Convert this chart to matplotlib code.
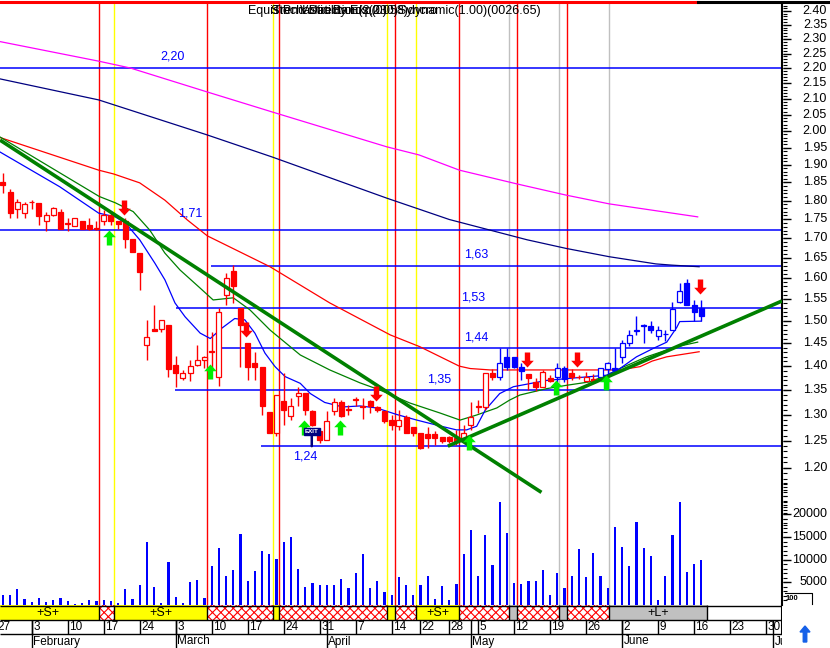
import matplotlib
matplotlib.use('Agg')
import matplotlib.pyplot as plt
from matplotlib.patches import Rectangle, FancyArrow
from matplotlib.path import Path
from matplotlib.lines import Line2D
from matplotlib.collections import LineCollection
from matplotlib.transforms import blended_transform_factory
import numpy as np
import pandas as pd

plt.rcParams['font.family'] = ['Liberation Sans', 'DejaVu Sans']
plt.rcParams['hatch.linewidth'] = 0.8

# ---------------- data ----------------
holidays = ['2003-04-18', '2003-04-21', '2003-05-01']

opens = [1.852, 1.824, 1.776, 1.766, 1.795, 1.792, 1.744, 1.761, 1.770, 1.738,
         1.733, 1.744, 1.735, 1.727, 1.744, 1.761, 1.745, 1.744, 1.699, 1.662,
         1.445, 1.481, 1.481, 1.490, 1.403, 1.376, 1.386, 1.403, 1.413, 1.431,
         1.378, 1.560, 1.618, 1.530, 1.450, 1.406, 1.399, 1.305, 1.265, 1.328,
         1.298, 1.338, 1.344, 1.308, 1.268, 1.251, 1.307, 1.325, 1.311, 1.329,
         1.317, 1.328, 1.316, 1.308, 1.290, 1.278, 1.296, 1.276, 1.265, 1.263,
         1.263, 1.257, 1.257, 1.256, 1.256, 1.280, 1.316, 1.316, 1.385, 1.377,
         1.419, 1.419, 1.399, 1.383, 1.367, 1.357, 1.376, 1.377, 1.396, 1.386,
         1.378, 1.368, 1.374, 1.377, 1.394, 1.397, 1.420, 1.450, 1.477, 1.490,
         1.488, 1.466, 1.469, 1.479, 1.544, 1.588, 1.537, 1.530]
highs = [1.877, 1.832, 1.803, 1.796, 1.801, 1.792, 1.770, 1.783, 1.777, 1.752,
         1.754, 1.745, 1.752, 1.745, 1.774, 1.770, 1.745, 1.752, 1.699, 1.662,
         1.502, 1.536, 1.502, 1.490, 1.421, 1.392, 1.413, 1.446, 1.421, 1.474,
         1.530, 1.613, 1.633, 1.530, 1.450, 1.431, 1.399, 1.305, 1.340, 1.386,
         1.335, 1.357, 1.344, 1.310, 1.268, 1.307, 1.335, 1.330, 1.320, 1.337,
         1.333, 1.330, 1.318, 1.308, 1.300, 1.310, 1.300, 1.276, 1.265, 1.276,
         1.269, 1.257, 1.260, 1.270, 1.280, 1.325, 1.330, 1.385, 1.395, 1.440,
         1.440, 1.419, 1.406, 1.383, 1.376, 1.392, 1.381, 1.406, 1.401, 1.394,
         1.381, 1.387, 1.384, 1.396, 1.408, 1.440, 1.457, 1.478, 1.511, 1.492,
         1.499, 1.488, 1.479, 1.544, 1.588, 1.598, 1.548, 1.548]
lows = [1.820, 1.752, 1.752, 1.752, 1.776, 1.734, 1.719, 1.757, 1.724, 1.719,
        1.731, 1.724, 1.721, 1.721, 1.734, 1.734, 1.724, 1.674, 1.664, 1.572,
        1.413, 1.476, 1.474, 1.378, 1.357, 1.370, 1.368, 1.401, 1.396, 1.392,
        1.359, 1.536, 1.540, 1.399, 1.371, 1.371, 1.300, 1.265, 1.260, 1.280,
        1.290, 1.318, 1.300, 1.278, 1.245, 1.251, 1.300, 1.296, 1.300, 1.317,
        1.293, 1.304, 1.305, 1.285, 1.271, 1.271, 1.265, 1.260, 1.234, 1.237,
        1.243, 1.245, 1.245, 1.243, 1.250, 1.271, 1.304, 1.309, 1.371, 1.370,
        1.392, 1.397, 1.370, 1.350, 1.349, 1.357, 1.367, 1.367, 1.367, 1.370,
        1.374, 1.366, 1.366, 1.370, 1.383, 1.386, 1.407, 1.443, 1.468, 1.451,
        1.472, 1.457, 1.455, 1.479, 1.542, 1.537, 1.500, 1.500]
closes = [1.843, 1.766, 1.795, 1.790, 1.797, 1.757, 1.761, 1.779, 1.724, 1.740,
          1.752, 1.724, 1.724, 1.724, 1.761, 1.744, 1.738, 1.699, 1.664, 1.616,
          1.464, 1.476, 1.502, 1.394, 1.386, 1.386, 1.401, 1.413, 1.419, 1.433,
          1.520, 1.600, 1.582, 1.490, 1.399, 1.399, 1.318, 1.265, 1.340, 1.310,
          1.318, 1.344, 1.310, 1.280, 1.251, 1.289, 1.325, 1.298, 1.309, 1.331,
          1.315, 1.317, 1.309, 1.289, 1.280, 1.290, 1.265, 1.265, 1.237, 1.256,
          1.256, 1.250, 1.250, 1.250, 1.265, 1.296, 1.318, 1.385, 1.377, 1.406,
          1.399, 1.399, 1.389, 1.375, 1.357, 1.388, 1.369, 1.396, 1.374, 1.377,
          1.377, 1.377, 1.369, 1.396, 1.406, 1.391, 1.450, 1.468, 1.479, 1.489,
          1.479, 1.478, 1.470, 1.526, 1.570, 1.537, 1.520, 1.511]
volumes = [2200, 2200, 3500, 1300, 600, 1600, 700, 1100, 1600, 900,
           200, 400, 1100, 900, 1100, 900, 500, 3500, 1300, 4400,
           13900, 4000, 400, 9500, 1800, 400, 5100, 5500, 1500, 8600,
           12500, 6400, 7700, 15700, 5300, 7400, 11900, 11200, 10100, 13900,
           15000, 7900, 4000, 4900, 4300, 4400, 4400, 5700, 3700, 7100,
           11200, 3700, 5300, 2800, 2200, 6200, 4400, 2200, 4300, 6500,
           1300, 4200, 1100, 4600, 11200, 16500, 6500, 15400, 8900, 22700,
           15900, 4800, 4600, 5400, 5200, 7700, 2200, 7000, 3700, 6300,
           12300, 6100, 11500, 6300, 3700, 17100, 12800, 8700, 18400, 12600,
           10900, 1100, 6400, 15400, 22700, 7300, 9000, 9900]
# r = short regime (red bars), b = long regime (blue bars)
bar_regime = 'r' * 69 + 'b' * 4 + 'r' * 4 + 'b' * 2 + 'r' * 4 + 'b' * 15

# moving averages (bar index, price)
ma_magenta_x = [-1, 13.3, 17.7, 28.3, 37.4, 53.3, 57.8, 63.4, 71.4, 78.2, 84.2, 96.5]
ma_magenta_y = [2.294, 2.224, 2.201, 2.123, 2.059, 1.953, 1.929, 1.885, 1.846, 1.815, 1.791, 1.756]
ma_navy_x = [-1, 13.3, 28.3, 37.4, 53.4, 57.9, 62.0, 72.8, 78.2, 84.2, 90.7, 92.9, 96.7]
ma_navy_y = [2.168, 2.097, 1.989, 1.923, 1.806, 1.776, 1.749, 1.696, 1.674, 1.653, 1.635, 1.632, 1.628]
ma_red_x = [-1, 13.3, 15.4, 19.0, 22.5, 25.6, 28.4, 37.1, 45.4, 53.8, 57.9, 63.4, 64.9,
            67.7, 74.6, 85.7, 88.5, 90.2, 92.2, 96.7]
ma_red_y = [1.985, 1.885, 1.874, 1.849, 1.801, 1.748, 1.706, 1.628, 1.541, 1.468, 1.442, 1.400, 1.395,
            1.392, 1.392, 1.392, 1.399, 1.411, 1.420, 1.431]
ma_green_x = [-1, 13.4, 15.6, 18.1, 20.4, 22.5, 24.6, 27.4, 29.2, 32.0, 34.3, 37.1, 41.3, 45.4,
              49.6, 52.4, 56.5, 60.7, 63.5, 65.8, 68.6, 70.4, 71.8, 75.5, 78.3, 81.5, 83.9,
              85.7, 89.4, 93.6, 96.5]
ma_green_y = [1.990, 1.811, 1.794, 1.770, 1.721, 1.662, 1.620, 1.576, 1.548, 1.553, 1.525, 1.479, 1.424, 1.392,
              1.365, 1.350, 1.324, 1.304, 1.290, 1.300, 1.314, 1.330, 1.340, 1.353, 1.360, 1.367, 1.381,
              1.395, 1.420, 1.442, 1.452]
ma_blue_x = [-1, 7.9, 13.3, 15.6, 17.0, 19.0, 21.1, 22.5, 23.9, 25.3, 27.4, 28.8, 30.4, 32.2, 33.6,
             35.0, 36.4, 37.8, 39.2, 41.3, 42.7, 44.7, 47.2, 49.6, 51.9, 54.7, 57.5, 60.3, 63.0,
             64.4, 65.8, 67.0, 69.0, 70.9, 75.5, 79.2, 83.9, 85.7, 88.0, 90.3, 92.2, 93.6, 94.0, 97.0]
ma_blue_y = [1.945, 1.838, 1.766, 1.756, 1.740, 1.696, 1.637, 1.596, 1.541, 1.509, 1.472, 1.460, 1.483, 1.505, 1.502,
             1.472, 1.428, 1.399, 1.378, 1.364, 1.343, 1.325, 1.316, 1.318, 1.314, 1.301, 1.290, 1.280, 1.271,
             1.271, 1.278, 1.310, 1.343, 1.357, 1.370, 1.375, 1.381, 1.395, 1.420, 1.438, 1.452, 1.485, 1.498, 1.499]

# support / resistance levels
level_prices = [2.20, 1.722, 1.63, 1.53, 1.44, 1.35, 1.24]
level_text = ['2,20', '1,71', '1,63', '1,53', '1,44', '1,35', '1,24']
level_start = [None, None, 28.9, 24.0, 29.9, 23.9, 35.8]
level_label_x = [23.5, 26.0, 65.7, 65.3, 65.7, 60.6, 42.0]
level_label_dy = [8.5, 11.5, 8.5, 7.5, 7.5, 7.5, -7.5]

# trend lines (bar index, price)
down_trend = ([-0.4, 74.8], [1.973, 1.156])
up_trend = ([61.8, 108.2], [1.240, 1.5455])

# signal arrows (bar index, price at tip)
buy_idx = [15, 29, 42, 47, 65, 77, 84]
buy_tip = [1.721, 1.4045, 1.290, 1.290, 1.261, 1.371, 1.381]
sell_idx = [17, 34, 52, 73, 80, 97]
sell_tip = [1.760, 1.463, 1.3286, 1.399, 1.399, 1.561]

# system state band: edges in bar units and state of each segment
band_edges = [-1, 13.4, 15.5, 28.4, 37.45, 38.4, 53.4, 54.4, 57.35, 63.4, 70.35,
              71.45, 77.3, 78.3, 84.2, 97.8]
band_state = ['S', 'X', 'S', 'X', 'S', 'X', 'S', 'X', 'S', 'X', 'G', 'X', 'G', 'X', 'G']
band_label = ['+S+', '', '+S+', '', '', '', '', '', '+S+', '', '', '', '', '', '+L+']

price_ticks = [1.20, 1.25, 1.30, 1.35, 1.40, 1.45, 1.50, 1.55, 1.60, 1.65, 1.70, 1.75,
               1.80, 1.85, 1.90, 1.95, 2.00, 2.05, 2.10, 2.15, 2.20, 2.25, 2.30, 2.35, 2.40]
volume_ticks = [5000, 10000, 15000, 20000]

# ---------------- layout ----------------
FW, FH = 830, 648


def fig_rect(x0, y0, x1, y1):
    # pixel box measured from the top-left corner
    return [x0 / FW, 1 - y1 / FH, (x1 - x0) / FW, (y1 - y0) / FH]


calendar = pd.bdate_range('2003-01-27', '2003-07-04').drop(pd.to_datetime(holidays))
cal_pos = np.arange(len(calendar)) - 1          # Jan 28 is bar 0
pos = np.arange(len(opens))
XL, XR = -0.403, 108.21

fig = plt.figure(figsize=(8.3, 6.48), dpi=100)
ax = fig.add_axes(fig_rect(0, 3, 782, 605))
axv = ax.twinx()   # volume shares the same pane

ax.set_yscale('log')
ax.set_xlim(XL, XR)
ax.set_ylim(0.9744, 2.4292)
for s in ['top', 'left', 'bottom']:
    ax.spines[s].set_visible(False)
ax.spines['right'].set_linewidth(1.5)
ax.set_xticks([])
ax.set_yticks([], minor=True)
ax.set_yticks([])

axv.set_ylim(0, 602 * 220.5)
for s in ['top', 'left', 'bottom', 'right']:
    axv.spines[s].set_visible(False)
axv.set_yticks([])


def right_ticks(axis, values, length_px, lw):
    # tick marks outside the pane, x in figure pixels, y in the axis' data units
    tr = blended_transform_factory(fig.transFigure, axis.transData)
    segs = [[(783 / FW, v), ((783 + length_px) / FW, v)] for v in values]
    fig.add_artist(LineCollection(segs, transform=tr, colors='black', linewidths=lw))


right_ticks(ax, np.round(np.arange(1.10, 2.43, 0.01), 2), 4, 0.8)
right_ticks(ax, price_ticks, 8, 1.0)
right_ticks(axv, np.arange(1000, 27001, 1000), 4, 0.8)
right_ticks(axv, volume_ticks, 8, 1.0)

yt = ax.get_yaxis_transform()
for p in price_ticks:
    ax.text(827 / 782, p, f'{p:.2f}', transform=yt, ha='right', va='center',
            fontsize=9, clip_on=False)
vt = axv.get_yaxis_transform()
for v in volume_ticks:
    axv.text(827 / 782, v, f'{v}', transform=vt, ha='right', va='center',
             fontsize=9, clip_on=False)

# signal lines
line_col = {'X': '#ff0000', 'S': '#ffff00', 'G': '#c0c0c0'}
for e, st in zip(band_edges[1:-1], band_state[1:]):
    ax.axvline(e, color=line_col[st], lw=1.0, zorder=0.5)

# support / resistance
for lv, st in zip(level_prices, level_start):
    ax.hlines(lv, XL if st is None else st, XR, color='#0000ff', lw=1.1, zorder=1)
for lv, t, lx, dy in zip(level_prices, level_text, level_label_x, level_label_dy):
    ax.annotate(t, (lx, lv), xytext=(0, dy), textcoords='offset points',
                ha='center', va='center', fontsize=9, color='#0000ff')

# moving averages
ax.plot(ma_magenta_x, ma_magenta_y, color='#ff00ff', lw=0.9, zorder=2)
ax.plot(ma_navy_x, ma_navy_y, color='#000080', lw=0.9, zorder=2)
ax.plot(ma_red_x, ma_red_y, color='#ff0000', lw=0.9, zorder=2)
ax.plot(ma_green_x, ma_green_y, color='#008000', lw=0.9, zorder=2)
ax.plot(ma_blue_x, ma_blue_y, color='#0000ff', lw=0.9, zorder=2)

# candles
for i, o, h, l, c, rg in zip(pos, opens, highs, lows, closes, bar_regime):
    col = '#ff0000' if rg == 'r' else '#0000ff'
    ax.vlines(i, l, h, color=col, lw=1.0, zorder=3)
    lo, hi = min(o, c), max(o, c)
    face = col if c < o else 'white'
    ax.add_patch(Rectangle((i - 0.35, lo), 0.7, hi - lo, facecolor=face,
                           edgecolor=col, lw=0.9, zorder=4))

# trend lines
ax.plot(*down_trend, color='#008000', lw=2.6, zorder=5, solid_capstyle='butt')
ax.plot(*up_trend, color='#008000', lw=2.6, zorder=5, solid_capstyle='butt')

# arrows
up_v = [(0, 0), (0.42, -0.45), (0.18, -0.45), (0.18, -1), (-0.18, -1), (-0.18, -0.45), (-0.42, -0.45), (0, 0)]
codes = [Path.MOVETO] + [Path.LINETO] * 6 + [Path.CLOSEPOLY]
up_arrow = Path(up_v, codes)
down_arrow = Path([(x, -y) for x, y in up_v], codes)
ax.plot(np.array(buy_idx) - 0.2, buy_tip, ls='none', marker=up_arrow, markersize=21.6,
        color='#00ee00', mec='none', zorder=6)
ax.plot(np.array(sell_idx) - 0.2, sell_tip, ls='none', marker=down_arrow, markersize=21.6,
        color='#ff0000', mec='none', zorder=6)

# exit sign
ax.annotate('EXIT', xy=(42.9, 1.240), xytext=(0, 10.5), textcoords='offset points',
            ha='center', va='center', fontsize=4.5, color='white', fontweight='bold',
            bbox=dict(boxstyle='square,pad=0.15', fc='#000080', ec='#000080'),
            arrowprops=dict(arrowstyle='-', color='#000080', lw=1.8, shrinkA=0, shrinkB=0),
            zorder=6)

# volume
axv.bar(pos, volumes, width=0.32, color='#0000ff', zorder=3)

# ---------------- band + date axis ----------------
axd = fig.add_axes(fig_rect(0, 605, 782, 648))
axd.set_xlim(XL, XR)
axd.set_ylim(43, 0)
axd.axis('off')
band_face = {'S': '#ffff00', 'G': '#c0c0c0'}
for a, b, st, lab in zip(band_edges[:-1], band_edges[1:], band_state, band_label):
    if st == 'X':
        axd.add_patch(Rectangle((a, 0), b - a, 15, facecolor='white', edgecolor='#ff0000',
                                hatch='xxxx', lw=0))
    else:
        axd.add_patch(Rectangle((a, 0), b - a, 15, facecolor=band_face[st], lw=0))
    axd.vlines(b, 0, 15, color='black', lw=1)
    if lab:
        axd.text((a + b) / 2, 7.5, lab, ha='center', va='center', fontsize=9)
axd.hlines([0.5, 15, 29], XL, XR, color='black', lw=1)
axd.vlines(XR, 0, 29, color='black', lw=1.5)

wk = calendar.to_period('W')
week_start = np.r_[True, wk[1:] != wk[:-1]]
month_start = np.r_[False, calendar.month[1:] != calendar.month[:-1]]
for d, p_, ws, ms in zip(calendar, cal_pos, week_start, month_start):
    if ws:
        axd.vlines(p_, 15, 29, color='black', lw=1)
        axd.text(p_ + 0.2, 22.3, str(d.day), ha='left', va='center', fontsize=8.5, clip_on=True)
    if ms:
        axd.vlines(p_, 15, 43, color='black', lw=1)
        axd.text(p_ + 0.2, 36.5, d.strftime('%B'), ha='left', va='center', fontsize=8.5, clip_on=True)

# ---------------- frame decorations ----------------
fig.add_artist(Line2D([0, 698 / FW], [1 - 1.5 / FH] * 2, color='#ff0000', lw=2.2))
fig.add_artist(Line2D([698 / FW, 1], [1 - 1.5 / FH] * 2, color='black', lw=2.2))
fig.add_artist(Line2D([785 / FW, 812 / FW, 812 / FW], [1 - 593 / FH, 1 - 593 / FH, 1 - 604 / FH],
                      color='black', lw=0.8))
fig.text(786 / FW, 1 - 598.5 / FH, '100', fontsize=5.5, fontweight='bold', va='center')

# the chart's title strings are printed on top of each other
fig.text(248 / FW, 1 - 11 / FH, 'Equis P', fontsize=9, va='center')
fig.text(271 / FW, 1 - 11 / FH, 'Stochastic Bands(2.058)dynamic(1.00)(0026.65)', fontsize=9, va='center')
fig.text(273 / FW, 1 - 11 / FH, 'Trend Direction(2,030)Syncro', fontsize=9, va='center')
fig.text(300 / FW, 1 - 11 / FH, 'Volatility Exp(0)', fontsize=9, va='center')

fig.add_artist(FancyArrow(805 / FW, 1 - 642 / FH, 0, 10 / FH, width=3.5 / FW,
                          head_width=10 / FW, head_length=6 / FH,
                          length_includes_head=False, color='#1560e8',
                          transform=fig.transFigure))

fig.savefig('out.png', dpi=100)
plt.close(fig)
